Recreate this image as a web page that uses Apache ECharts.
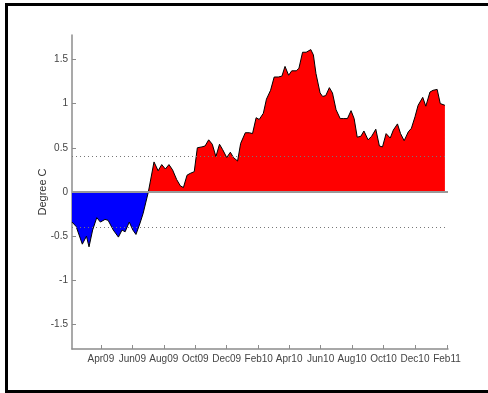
<!DOCTYPE html>
<html>
<head>
<meta charset="utf-8">
<script src="https://cdn.jsdelivr.net/npm/echarts@6/dist/echarts.min.js"></script>
<style>
    html, body {
        margin: 0;
        padding: 0;
        background: #fff;
        overflow: hidden;
    }
    #chart {
        width: 488px;
        height: 393px;
    }
    .frame {
        position: absolute;
        left: 5px;
        top: 3px;
        width: 483px;
        height: 390px;
        box-sizing: border-box;
        border: 3px solid #000;
        border-right: none;
        pointer-events: none;
    }
</style>
</head>
<body>
<div id="chart"></div>
<div class="frame"></div>
<script>
  // anomaly series
  var dates = [
    '2009-02-04', '2009-02-12', '2009-02-24', '2009-03-04', '2009-03-09', '2009-03-16', '2009-03-24', '2009-03-31',
    '2009-04-09', '2009-04-15', '2009-04-25', '2009-05-05', '2009-05-12', '2009-05-18', '2009-05-26', '2009-06-02',
    '2009-06-08', '2009-06-16', '2009-06-22', '2009-07-02', '2009-07-13', '2009-07-21', '2009-07-28', '2009-08-04',
    '2009-08-11', '2009-08-18', '2009-08-26', '2009-09-02', '2009-09-08', '2009-09-15', '2009-09-21', '2009-09-29',
    '2009-10-05', '2009-10-14', '2009-10-20', '2009-10-27', '2009-11-03', '2009-11-10', '2009-11-17', '2009-11-23',
    '2009-12-01', '2009-12-08', '2009-12-14', '2009-12-22', '2009-12-28', '2010-01-06', '2010-01-14', '2010-01-20',
    '2010-01-27', '2010-02-02', '2010-02-10', '2010-02-16', '2010-02-24', '2010-03-03', '2010-03-11', '2010-03-18',
    '2010-03-24', '2010-03-31', '2010-04-06', '2010-04-15', '2010-04-20', '2010-04-27', '2010-05-04', '2010-05-13',
    '2010-05-18', '2010-05-23', '2010-05-31', '2010-06-05', '2010-06-11', '2010-06-18', '2010-06-24', '2010-07-01',
    '2010-07-09', '2010-07-15', '2010-07-23', '2010-07-30', '2010-08-05', '2010-08-11', '2010-08-18', '2010-08-24',
    '2010-09-01', '2010-09-08', '2010-09-16', '2010-09-23', '2010-09-29', '2010-10-06', '2010-10-14', '2010-10-20',
    '2010-10-28', '2010-11-03', '2010-11-10', '2010-11-18', '2010-11-24', '2010-12-01', '2010-12-07', '2010-12-16',
    '2010-12-22', '2010-12-30', '2011-01-05', '2011-01-13', '2011-01-19', '2011-01-28'
  ]
  var values = [
    -0.34, -0.39, -0.59, -0.50, -0.62, -0.43, -0.29, -0.34,
    -0.31, -0.32, -0.43, -0.51, -0.43, -0.45, -0.34, -0.43,
    -0.48, -0.35, -0.24, 0.00, 0.34, 0.24, 0.31, 0.26,
    0.31, 0.25, 0.14, 0.07, 0.05, 0.19, 0.21, 0.23,
    0.50, 0.51, 0.52, 0.59, 0.54, 0.40, 0.54, 0.48,
    0.39, 0.45, 0.39, 0.35, 0.55, 0.67, 0.67, 0.66,
    0.84, 0.82, 0.89, 1.05, 1.15, 1.30, 1.30, 1.31,
    1.42, 1.32, 1.37, 1.37, 1.40, 1.58, 1.58, 1.61,
    1.55, 1.34, 1.12, 1.08, 1.09, 1.18, 1.12, 0.93,
    0.83, 0.83, 0.83, 0.92, 0.83, 0.62, 0.63, 0.69,
    0.59, 0.63, 0.71, 0.52, 0.51, 0.66, 0.61, 0.70,
    0.77, 0.66, 0.58, 0.68, 0.72, 0.85, 0.98, 1.07,
    0.97, 1.13, 1.15, 1.16, 1.00, 0.98
  ]
  // index of the point where the series crosses zero (cold part before, warm after)
  var crossIndex = 19
  var xTicks = ['2009-04-01', '2009-06-01', '2009-08-01', '2009-10-01', '2009-12-01', '2010-02-01',
    '2010-04-01', '2010-06-01', '2010-08-01', '2010-10-01', '2010-12-01', '2011-02-01']
  var yTicks = [-1.5, -1, -0.5, 0, 0.5, 1, 1.5]
  var bandLevels = [0.4, -0.4]

  var monthNames = ['Jan', 'Feb', 'Mar', 'Apr', 'May', 'Jun', 'Jul', 'Aug', 'Sep', 'Oct', 'Nov', 'Dec']
  var toTime = function (s) {
    var p = s.split('-')
    return Date.UTC(+p[0], +p[1] - 1, +p[2])
  }

  var seriesData = dates.map(function (d, i) {
    return [toTime(d), values[i]]
  })
  var coldData = seriesData.slice(0, crossIndex + 1)
  var warmData = seriesData.slice(crossIndex)
  var tickTimes = xTicks.map(toTime)

  var axisColor = '#8c8c8c'
  var labelColor = '#444'
  var fontFamily = '"Liberation Sans", Arial, sans-serif'

  var bandLines = bandLevels.map(function (v) {
    return {yAxis: v, lineStyle: {color: '#777', width: 1, type: [1, 3]}}
  })
  bandLines.push({yAxis: 0, lineStyle: {color: '#999', width: 2, type: 'solid'}})

  var chart = echarts.init(document.getElementById('chart'))
  chart.setOption({
    animation: false,
    grid: {
      left: 72,
      right: 40,
      top: 35,
      bottom: 44
    },
    xAxis: {
      // time values on a plain value axis so custom tick positions work
      type: 'value',
      min: toTime('2009-02-04'),
      max: toTime('2011-02-03'),
      axisLine: {onZero: false, lineStyle: {color: axisColor, width: 1.5}},
      axisTick: {
        inside: true,
        length: 4,
        customValues: tickTimes,
        lineStyle: {color: axisColor}
      },
      axisLabel: {
        customValues: tickTimes,
        color: labelColor,
        fontSize: 10,
        fontFamily: fontFamily,
        margin: 5,
        formatter: function (v) {
          var d = new Date(v)
          var yy = String(d.getUTCFullYear()).slice(2)
          return monthNames[d.getUTCMonth()] + yy
        }
      },
      splitLine: {show: false}
    },
    yAxis: {
      type: 'value',
      min: -1.775,
      max: 1.775,
      name: 'Degree C',
      nameLocation: 'middle',
      nameGap: 24,
      nameMoveOverlap: false,
      nameRotate: 90,
      nameTextStyle: {color: '#333', fontSize: 11, fontFamily: fontFamily},
      axisLine: {show: true, lineStyle: {color: axisColor, width: 1.5}},
      axisTick: {
        show: true,
        inside: true,
        length: 4,
        customValues: yTicks,
        lineStyle: {color: axisColor}
      },
      axisLabel: {
        customValues: yTicks,
        color: labelColor,
        fontSize: 10,
        fontFamily: fontFamily,
        margin: 4,
        formatter: function (v) {
          return String(v)
        }
      },
      splitLine: {show: false}
    },
    series: [
      {
        type: 'line',
        data: coldData,
        symbol: 'none',
        silent: true,
        lineStyle: {width: 0},
        areaStyle: {color: '#0000ff', opacity: 1}
      },
      {
        type: 'line',
        data: warmData,
        symbol: 'none',
        silent: true,
        lineStyle: {width: 0},
        areaStyle: {color: '#ff0000', opacity: 1}
      },
      {
        type: 'line',
        data: seriesData,
        symbol: 'none',
        silent: true,
        z: 3,
        lineStyle: {color: '#000', width: 1},
        markLine: {
          silent: true,
          symbol: 'none',
          label: {show: false},
          data: bandLines
        }
      }
    ]
  })
</script>
</body>
</html>
